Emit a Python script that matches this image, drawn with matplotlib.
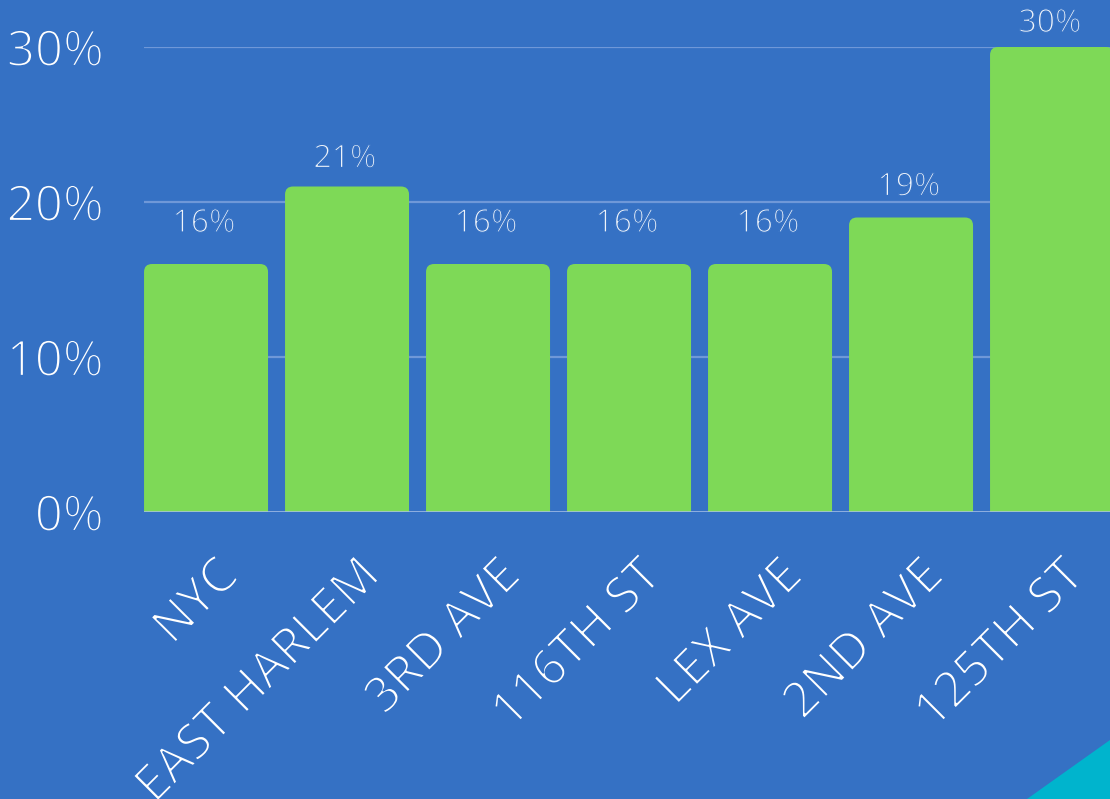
import matplotlib
matplotlib.use("Agg")
import matplotlib.pyplot as plt
import matplotlib.patheffects as pe
from matplotlib.patches import FancyBboxPatch, Polygon
from matplotlib.transforms import ScaledTranslation

categories = ["NYC", "EAST HARLEM", "3RD AVE", "116TH ST", "LEX AVE", "2ND AVE", "125TH ST"]
values = [16, 21, 16, 16, 16, 19, 30]
yticks = [0, 10, 20, 30]
ytick_labels = ["0%", "10%", "20%", "30%"]
value_labels = [f"{v}%" for v in values]
label_gap_px = [32, 19, 32, 32, 32, 22, 15]

BG = "#3571C4"
GREEN = "#7ED957"
CYAN = "#00B4CD"
GRID = "#6F98D8"
BASE = "#A9C1E8"
FONT = ["Open Sans", "DejaVu Sans"]

W, H, DPI = 1110, 799, 100


def thin(lw):
    # erode glyph outlines with background colour to mimic a light weight
    return [pe.Normal(), pe.Stroke(linewidth=lw, foreground=BG)]


fig = plt.figure(figsize=(W / DPI, H / DPI), dpi=DPI, facecolor=BG)
ax = fig.add_axes([144 / W, (H - 512) / H, 1 - 144 / W, (512 - 47) / H])
ax.set_facecolor(BG)
ax.set_xlim(-0.44, -0.44 + (W - 144) / 141)
ax.set_ylim(0, 30)
for s in ax.spines.values():
    s.set_visible(False)

# grid
for t in yticks[1:]:
    ax.axhline(t, color=GRID, lw=1.6, zorder=1)

bars = ax.bar(range(len(values)), values, width=124 / 141, color=GREEN, zorder=2)
# rounded top corners
px_x = 1 / 141.0
px_y = 30 / 465.0
r = 8 * px_x
aspect = px_y / px_x
for b in bars:
    x0, w, h = b.get_x(), b.get_width(), b.get_height()
    b.remove()
    p = FancyBboxPatch((x0, -2), w, h + 2,
                       boxstyle=f"round,pad=0,rounding_size={r}",
                       mutation_aspect=aspect, fc=GREEN, ec="none", zorder=2)
    ax.add_patch(p)

ax.axhline(0, color=BASE, lw=1.8, zorder=3)

# value labels
for i, (v, lab) in enumerate(zip(values, value_labels)):
    off = ScaledTranslation(-2 / DPI, label_gap_px[i] / DPI, fig.dpi_scale_trans)
    ax.text(i, v, lab, ha="center", va="baseline", color="#EEF3FA",
            fontsize=23, family=FONT,
            transform=ax.transData + off, zorder=4, clip_on=False,
            path_effects=thin(0.9))

# y ticks
ax.set_yticks(yticks)
ax.set_yticklabels(ytick_labels, family=FONT, fontsize=35.5, color="white")
for t in ax.get_yticklabels():
    t.set_path_effects(thin(1.3))
ax.tick_params(axis="y", length=0, pad=29)
ax.set_xticks([])

# x labels
for i, c in enumerate(categories):
    off = ScaledTranslation(34 / DPI, -66 / DPI, fig.dpi_scale_trans)
    ax.text(i, 0, c, rotation=45, rotation_mode="anchor", ha="right", va="baseline",
            color="white", fontsize=35.5, family=FONT,
            transform=ax.transData + off, clip_on=False,
            path_effects=thin(1.3))

# corner triangle
tri = Polygon([(1.0, 59 / H), (1.0, 0.0), (1027 / W, 0.0)], closed=True,
              fc=CYAN, ec="none", transform=fig.transFigure, zorder=0)
fig.patches.append(tri)

fig.savefig("out.png", dpi=DPI, facecolor=BG)
